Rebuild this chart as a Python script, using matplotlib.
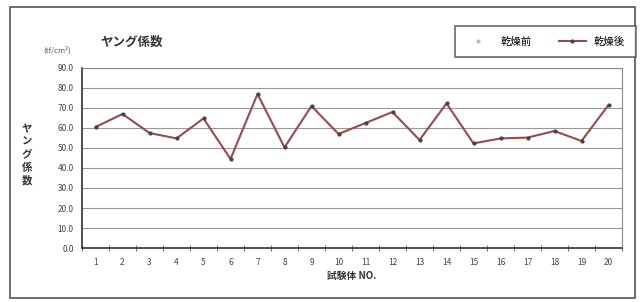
import matplotlib
matplotlib.use("Agg")
import matplotlib.pyplot as plt
from matplotlib.patches import Rectangle
import numpy as np

plt.rcParams['font.family'] = ['Noto Sans CJK JP', 'DejaVu Sans']

specimens = [str(i) for i in range(1, 21)]
after_dry = [60.5, 67.0, 57.5, 54.8, 64.8, 44.5, 77.0, 50.3, 71.0, 57.0,
             62.5, 68.0, 54.0, 72.3, 52.3, 54.8, 55.2, 58.5, 53.5, 71.5]
yticks = [0, 10, 20, 30, 40, 50, 60, 70, 80, 90]

W, H = 643, 302
fig = plt.figure(figsize=(W / 100, H / 100), dpi=100)
fig.patch.set_facecolor('white')

# outer frame
fig.patches.append(Rectangle((10 / W, 1 - 298 / H), 625 / W, 291 / H,
                             transform=fig.transFigure, fill=False,
                             edgecolor='#555555', linewidth=1.2))

ax = fig.add_axes([82 / W, 1 - 248 / H, 540 / W, 180 / H])
x = np.arange(1, len(specimens) + 1)
ax.plot(x, after_dry, color='#9a4a4a', linewidth=1.5, marker='o',
        markersize=2, markerfacecolor='#444444', markeredgecolor='#444444',
        label='乾燥後', zorder=3)
ax.plot([], [], linestyle='none', marker='o', markersize=2,
        color='#bbbbbb', label='乾燥前')

ax.set_xlim(0.5, len(specimens) + 0.5)
ax.set_ylim(0, 90)
ax.set_yticks(yticks)
ax.set_yticklabels([f'{v:.1f}' for v in yticks], fontsize=6, color='#444444')
ax.set_xticks(x)
ax.set_xticklabels(specimens, fontsize=6, color='#444444')
ax.set_xticks(np.arange(0.5, len(specimens) + 1, 1), minor=True)
ax.tick_params(axis='x', which='major', length=0, pad=7)
ax.tick_params(axis='x', which='minor', length=4, direction='inout', color='#555555')
ax.tick_params(axis='y', which='major', length=0, pad=6)
ax.grid(axis='y', color='#999999', linewidth=0.8)
ax.set_axisbelow(True)
for s in ['top', 'right']:
    ax.spines[s].set_color('#888888')
    ax.spines[s].set_linewidth(0.8)
for s in ['left', 'bottom']:
    ax.spines[s].set_color('#333333')
    ax.spines[s].set_linewidth(1.2)

ax.set_xlabel('試験体 NO.', fontsize=7, fontweight='bold', color='#333333', labelpad=3)

fig.text(132 / W, 1 - 42 / H, 'ヤング係数', fontsize=9, fontweight='bold',
         color='#333333', ha='center', va='center')
fig.text(57 / W, 1 - 50 / H, '(tf/cm²)', fontsize=5.5, color='#555555',
         ha='center', va='center')
fig.text(27 / W, 1 - 155 / H, 'ヤ\nン\nグ\n係\n数', fontsize=7.5,
         fontweight='bold', color='#333333', ha='center', va='center',
         linespacing=1.35)

h, l = ax.get_legend_handles_labels()
leg = fig.legend([h[1], h[0]], [l[1], l[0]], loc='center',
                 bbox_to_anchor=(545 / W, 1 - 41.5 / H), ncol=2, fontsize=7.5,
                 frameon=True, fancybox=False, edgecolor='#444444',
                 handlelength=2.6, columnspacing=2.6, borderpad=1.0,
                 borderaxespad=0)
leg.get_frame().set_linewidth(1.2)

fig.savefig('out.png', dpi=100, facecolor='white')
